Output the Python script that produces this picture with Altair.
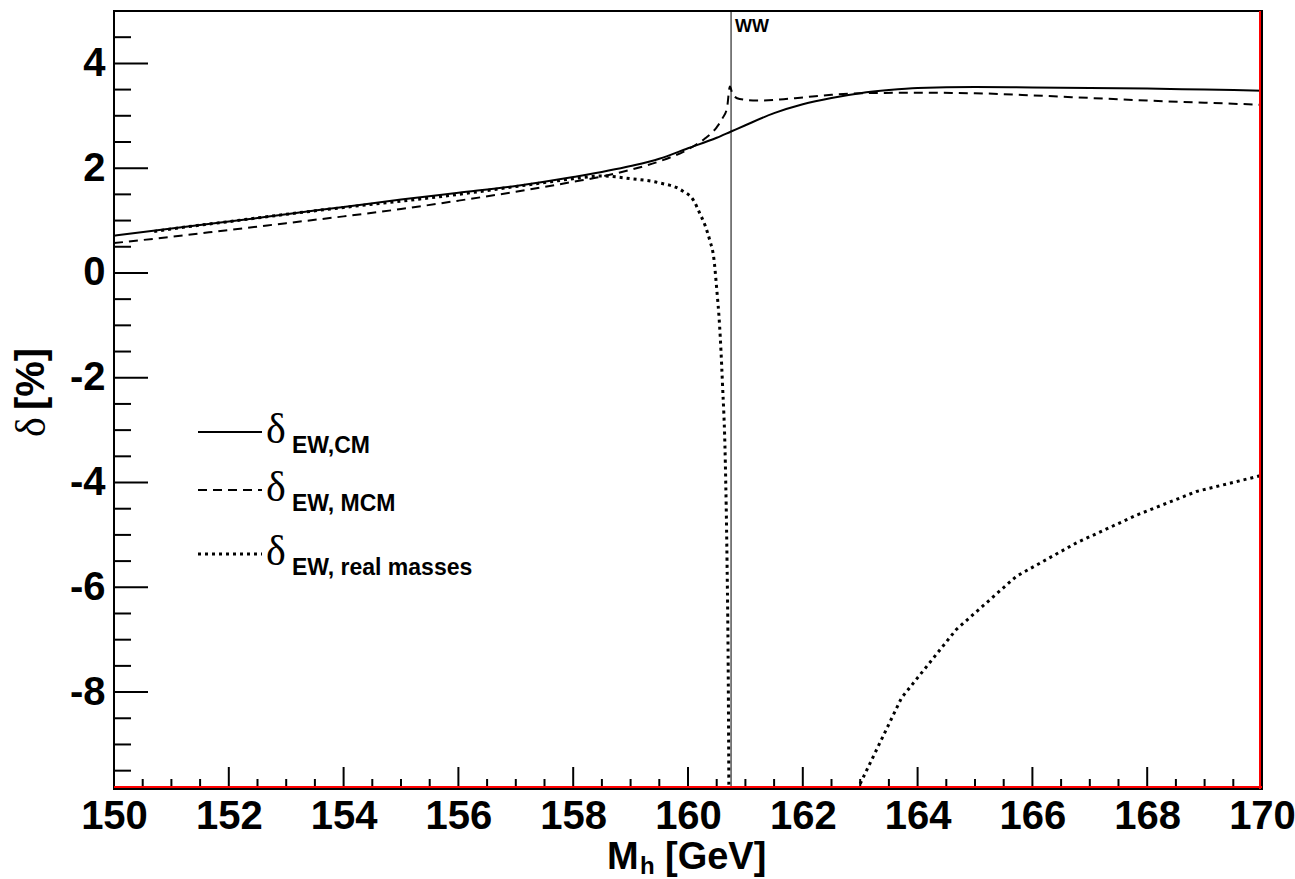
import altair as alt
import pandas as pd

# Electroweak correction delta [%] versus Higgs mass M_h [GeV]
mh_cm = [150, 151, 152, 153, 154, 155, 156, 157, 158, 159, 159.5, 160, 160.5,
         160.75, 161, 161.5, 162, 162.5, 163, 163.5, 164, 165, 166, 167, 168,
         169, 170]
delta_cm = [0.71, 0.85, 0.98, 1.12, 1.26, 1.40, 1.53, 1.66, 1.83, 2.04, 2.18,
            2.38, 2.58, 2.70, 2.82, 3.05, 3.22, 3.34, 3.43, 3.49, 3.53, 3.55,
            3.54, 3.53, 3.52, 3.50, 3.48]

mh_mcm = [150, 151, 152, 153, 154, 155, 156, 157, 158, 158.5, 159, 159.5, 160,
          160.3, 160.5, 160.6, 160.68, 160.73, 160.78, 160.9, 161.2, 161.6,
          162, 162.5, 163, 164, 165, 166, 167, 168, 169, 170]
delta_mcm = [0.57, 0.69, 0.82, 0.95, 1.08, 1.22, 1.38, 1.55, 1.74, 1.84, 1.97,
             2.13, 2.36, 2.57, 2.78, 2.95, 3.15, 3.56, 3.40, 3.32, 3.29, 3.31,
             3.35, 3.40, 3.43, 3.44, 3.43, 3.39, 3.34, 3.29, 3.25, 3.21]

# real-mass result, below and above the WW threshold
mh_real_lo = [150.7, 151, 152, 153, 154, 155, 156, 157, 157.6, 158, 158.5, 159,
              159.5, 159.9, 160.1, 160.2, 160.3, 160.38, 160.45, 160.5, 160.55,
              160.6, 160.65, 160.68, 160.7, 160.715]
delta_real_lo = [0.79, 0.84, 0.98, 1.12, 1.25, 1.37, 1.50, 1.65, 1.74, 1.80,
                 1.85, 1.80, 1.72, 1.57, 1.38, 1.15, 0.90, 0.62, 0.28, -0.30,
                 -1.00, -2.10, -3.60, -5.50, -7.50, -10.5]
mh_real_hi = [163.0, 163.72, 164.67, 165.72, 166.77, 167.82, 168.86, 169.9, 170]
delta_real_hi = [-9.75, -8.11, -6.81, -5.79, -5.15, -4.62, -4.17, -3.89, -3.86]

ww_threshold = [160.75]

x_major = [150, 152, 154, 156, 158, 160, 162, 164, 166, 168, 170]
y_major = [-8, -6, -4, -2, 0, 2, 4]
x_minor = [150 + 0.5 * k for k in range(41) if (150 + 0.5 * k) not in x_major]
y_minor = [-9.5 + 0.5 * k for k in range(29) if (-9.5 + 0.5 * k) not in y_major]

W, H = 1148, 778
SANS = "Liberation Sans"
SERIF = "Liberation Serif"

xs = alt.Scale(domain=[150, 170], nice=False, zero=False)
ys = alt.Scale(domain=[-9.85, 5], nice=False, zero=False)

cm = pd.DataFrame({"mh": mh_cm, "d": delta_cm})
mcm = pd.DataFrame({"mh": mh_mcm, "d": delta_mcm})
real_lo = pd.DataFrame({"mh": mh_real_lo, "d": delta_real_lo})
real_hi = pd.DataFrame({"mh": mh_real_hi, "d": delta_real_hi})

x_axis = alt.Axis(values=x_major, labelExpr="toString(datum.value)", title="",
                  domain=False, ticks=False, grid=False, labelFont=SANS,
                  labelFontSize=40, labelFontWeight="bold", labelColor="black",
                  labelPadding=7, labelFlush=False, labelOverlap=False)
y_axis = alt.Axis(values=y_major, labelExpr="toString(datum.value)", title="",
                  domain=False, ticks=False, grid=False, labelFont=SANS,
                  labelFontSize=40, labelFontWeight="bold", labelColor="black",
                  labelPadding=9, labelOverlap=False)


def X(field):
    return alt.X(field, type="quantitative", scale=xs, axis=x_axis)


def Y(field):
    return alt.Y(field, type="quantitative", scale=ys, axis=y_axis)


solid = alt.Chart(cm).mark_line(clip=True, color="black", strokeWidth=2,
                                interpolate="monotone").encode(x=X("mh"), y=Y("d"))
dashed = alt.Chart(mcm).mark_line(clip=True, color="black", strokeWidth=2,
                                  strokeDash=[9, 6], interpolate="monotone").encode(
    x=X("mh"), y=Y("d"))
dot_style = dict(clip=True, color="black", strokeWidth=3, strokeDash=[3, 4],
                 strokeCap="butt")
dotted_lo = alt.Chart(real_lo).mark_line(interpolate="monotone", **dot_style).encode(
    x=X("mh"), y=Y("d"))
dotted_hi = alt.Chart(real_hi).mark_line(**dot_style).encode(x=X("mh"), y=Y("d"))

ww_line = alt.Chart(pd.DataFrame({"mh": ww_threshold})).mark_rule(
    color="black", strokeWidth=1).encode(x=X("mh"), y=alt.value(0), y2=alt.value(H))
ww_text = alt.Chart(pd.DataFrame({"mh": ww_threshold})).mark_text(
    text="WW", font=SANS, fontSize=18, fontWeight="bold", align="left",
    baseline="alphabetic", dx=4, color="black").encode(x=X("mh"), y=alt.value(21))

# inward ticks on the bottom and left axes
xt_major = alt.Chart(pd.DataFrame({"v": x_major})).mark_rule(
    color="black", strokeWidth=2).encode(x=X("v"), y=alt.value(H), y2=alt.value(H - 22))
xt_minor = alt.Chart(pd.DataFrame({"v": x_minor})).mark_rule(
    color="black", strokeWidth=2).encode(x=X("v"), y=alt.value(H), y2=alt.value(H - 10))
yt_major = alt.Chart(pd.DataFrame({"v": y_major})).mark_rule(
    color="black", strokeWidth=2).encode(y=Y("v"), x=alt.value(0), x2=alt.value(34))
yt_minor = alt.Chart(pd.DataFrame({"v": y_minor})).mark_rule(
    color="black", strokeWidth=2).encode(y=Y("v"), x=alt.value(0), x2=alt.value(17))

# red histogram edges along the bottom and right side of the frame
red_bottom = alt.Chart(pd.DataFrame({"a": [0]})).mark_rule(
    color="#ff0000", strokeWidth=2).encode(
    x=alt.value(0), x2=alt.value(W), y=alt.value(H - 2))
red_right = alt.Chart(pd.DataFrame({"a": [0]})).mark_rule(
    color="#ff0000", strokeWidth=2).encode(
    x=alt.value(W - 2), y=alt.value(0), y2=alt.value(H))


def txt(text, x, y, font=SANS, size=40, weight="bold", align="left",
        baseline="alphabetic", angle=0):
    return alt.Chart(pd.DataFrame({"a": [0]})).mark_text(
        text=text, font=font, fontSize=size, fontWeight=weight, align=align,
        baseline=baseline, angle=angle, color="black").encode(
        x=alt.value(x), y=alt.value(y))


# axis titles
x_title = [
    txt("M", 493, 858, size=38),
    txt("h", 526, 863, size=24),
    txt("[GeV]", 551, 858, size=38),
]
y_title = [
    txt("δ", -82, 416, font=SERIF, weight="normal", size=42, align="center",
        baseline="middle", angle=270),
    txt("[%]", -82, 368, align="center", baseline="middle", angle=270),
]

# legend
leg_rows = [("EW,CM", None, 421), ("EW, MCM", [9, 6], 479),
            ("EW, real masses", [3, 4], 543)]
legend = []
for label, dash, yy in leg_rows:
    kw = {"color": "black", "strokeWidth": 3 if dash == [3, 4] else 2}
    if dash is not None:
        kw["strokeDash"] = dash
    legend.append(alt.Chart(pd.DataFrame({"a": [0]})).mark_rule(**kw).encode(
        x=alt.value(84), x2=alt.value(148), y=alt.value(yy)))
    legend.append(txt("δ", 152, yy + 11, font=SERIF, weight="normal", size=42))
    legend.append(txt(label, 178, yy + 21, size=23))

chart = alt.layer(
    solid, dashed, dotted_lo, dotted_hi, ww_line, ww_text,
    xt_major, xt_minor, yt_major, yt_minor, red_bottom, red_right,
    *x_title, *y_title, *legend,
).properties(
    width=W, height=H,
    autosize=alt.AutoSizeParams(type="none"),
    padding={"left": 114, "top": 11, "right": 1295 - 114 - W, "bottom": 879 - 11 - H},
    background="white",
).configure_view(stroke="black", strokeWidth=2)

chart.save("out.html", embed_options={"renderer": "svg", "actions": False})
